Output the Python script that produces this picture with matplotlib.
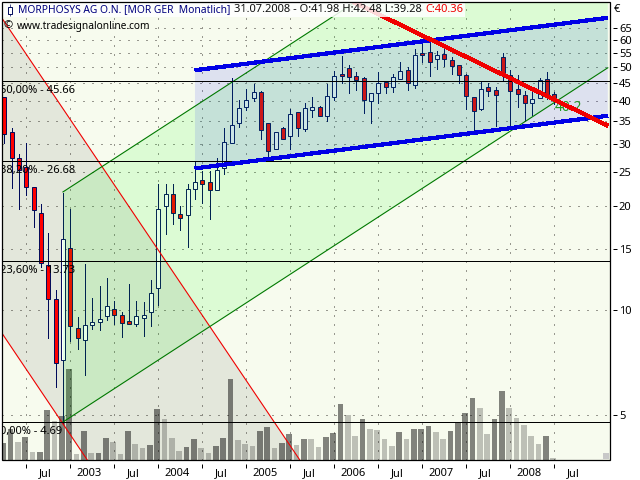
import matplotlib
matplotlib.use("Agg")
import matplotlib.pyplot as plt
from matplotlib.patches import Polygon, Rectangle
from matplotlib.ticker import NullFormatter, NullLocator

# months counted from Jan 2003, first candle is Apr 2002
months = list(range(-9, 67))
opens = [41.0, 32.5, 27.4, 25.9, 22.6, 19.1, 13.5, 10.75, 7.2, 15.1,
         8.87, 8.2, 9.03, 9.22, 9.6, 10.1, 9.67, 9.28, 9.09, 9.48,
         9.87, 11.55, 20.0, 21.6, 18.9, 18.8, 22.4, 23.7, 23.4, 22.2,
         25.6, 30.3, 34.6, 38.4, 40.9, 42.4, 34.6, 29.2, 33.4, 31.7,
         37.1, 33.2, 37.7, 38.4, 36.2, 41.2, 47.8, 49.9, 47.3, 46.7,
         40.0, 42.2, 45.3, 43.8, 46.4, 49.3, 44.6, 54.9, 55.3, 52.8,
         54.6, 52.4, 50.7, 47.7, 41.0, 37.9, 43.8, 43.0, 53.5, 47.7,
         43.3, 41.6, 39.5, 40.8, 46.2, 41.98]
highs = [41.0, 33.4, 28.2, 30.2, 22.6, 20.2, 16.7, 11.4, 21.7, 19.6,
         9.54, 13.6, 10.85, 11.7, 12.4, 10.65, 9.88, 11.9, 10.65, 10.55,
         12.25, 23.1, 23.1, 23.1, 20.0, 23.1, 26.8, 25.2, 25.2, 27.4,
         33.4, 46.5, 40.3, 43.4, 44.8, 42.7, 34.6, 32.7, 33.7, 37.9,
         37.3, 39.4, 41.0, 38.8, 44.8, 48.9, 53.9, 50.8, 48.4, 46.9,
         42.2, 48.4, 45.5, 47.9, 52.0, 50.0, 56.4, 59.0, 60.5, 55.7,
         56.8, 53.5, 50.7, 47.9, 41.0, 45.5, 45.0, 43.8, 54.9, 49.3,
         47.6, 42.7, 42.6, 46.5, 48.6, 42.48]
lows = [30.3, 22.5, 19.6, 21.5, 17.4, 13.3, 8.33, 6.02, 4.69, 8.17,
        7.75, 6.5, 8.8, 8.78, 9.37, 9.13, 8.35, 9.11, 8.97, 8.44,
        9.0, 10.35, 16.6, 17.7, 17.0, 15.2, 20.9, 20.3, 18.3, 22.2,
        24.6, 30.3, 33.6, 37.8, 40.1, 31.2, 27.1, 29.2, 31.2, 29.2,
        31.8, 32.8, 35.9, 36.2, 35.0, 40.3, 45.2, 42.2, 43.0, 37.0,
        34.5, 39.5, 42.1, 42.6, 46.2, 43.2, 43.5, 51.8, 47.1, 49.6,
        50.6, 48.0, 45.2, 38.0, 32.5, 37.7, 41.5, 34.0, 45.6, 33.6,
        38.5, 35.4, 36.6, 40.8, 40.5, 39.28]
closes = [32.1, 27.5, 25.4, 22.6, 19.4, 13.7, 10.8, 7.03, 16.0, 8.97,
          8.3, 9.05, 9.22, 9.4, 10.25, 9.67, 9.17, 9.11, 9.6, 9.67,
          11.2, 19.6, 21.6, 19.0, 18.4, 22.3, 23.4, 23.1, 22.2, 25.4,
          30.4, 34.1, 38.2, 40.2, 42.4, 33.1, 28.8, 32.7, 31.2, 36.7,
          33.4, 38.2, 38.4, 36.2, 41.3, 47.2, 47.4, 47.0, 46.0, 40.3,
          42.2, 45.0, 43.8, 47.0, 49.0, 45.0, 54.2, 54.4, 51.9, 54.2,
          52.8, 50.4, 47.7, 41.3, 37.5, 43.3, 42.7, 41.6, 47.7, 42.7,
          42.0, 39.4, 40.5, 45.9, 41.9, 40.36]

volumes = [17, 31, 18, 23, 8, 8, 50, 39, 44, 91,
           6, 29, 7, 7, 22, 18, 6, 29, 16, 12,
           15, 51, 41, 22, 9, 13, 21, 12, 7, 14,
           22, 81, 20, 16, 14, 29, 33, 12, 17, 26,
           15, 21, 21, 13, 23, 27, 56, 45, 24, 41,
           31, 30, 21, 14, 28, 21, 31, 31, 34, 28,
           21, 29, 38, 47, 62, 52, 26, 41, 69, 52,
           42, 35, 24, 16, 24, 2]
volume_dark = [1, 1, 0, 1, 0, 1, 1, 0, 1, 1,
               0, 1, 0, 1, 1, 0, 0, 1, 0, 0,
               1, 1, 0, 0, 0, 1, 1, 0, 0, 1,
               1, 1, 0, 0, 0, 1, 1, 0, 1, 1,
               0, 1, 0, 0, 1, 1, 1, 0, 0, 1,
               0, 0, 0, 0, 1, 0, 1, 1, 1, 0,
               0, 1, 1, 1, 1, 0, 0, 1, 1, 0,
               0, 0, 0, 0, 1, 0]

fib_levels = [45.6, 26.85, 13.83, 4.76]
fib_labels = ["50,00% - 45.66", "38,20% - 26.68", "23,60% - 13.73", "0,00% - 4.69"]
price_ticks = [5, 10, 15, 20, 25, 30, 35, 40, 45, 50, 55, 60, 65]
month_ticks = [-6, 0, 6, 12, 18, 24, 30, 36, 42, 48, 54, 60, 66]
month_labels = ["Jul", "2003", "Jul", "2004", "Jul", "2005", "Jul", "2006", "Jul", "2007", "Jul", "2008", "Jul"]

# channels as (month, price)
blue_upper = ([17.0, 73.3], [49.1, 69.5])
blue_lower = ([17.0, 73.3], [25.6, 36.3])
red_thick = ([38.6, 73.3], [77.2, 34.0])
green_upper = ([-1.0, 73.3], [21.9, 229.0])
green_lower = ([-1.0, 73.3], [4.76, 49.9])
red_upper = ([-9.35, 31.3], [69.5, 3.70])
red_lower = ([-9.35, 2.32], [8.6, 3.70])

plt.rcParams["font.family"] = ["Noto Sans", "DejaVu Sans"]

fig = plt.figure(figsize=(6.4, 4.8), dpi=100, facecolor="white")
ax = fig.add_axes([1.5 / 640, 1 - 460 / 480, 608.5 / 640, 458 / 480], facecolor="#F7FBEE")
ax.set_yscale("log")
ax.set_xlim(-9.38, 73.6)
ax.set_ylim(3.70, 77.2)

ax.set_axisbelow(True)
ax.grid(True, which="major", color="#98988F", linewidth=0.8, linestyle=(0, (1.1, 6.4)), antialiased=False)


def channel(upper, lower, color, alpha, zorder):
    points = list(zip(upper[0], upper[1])) + list(zip(lower[0][::-1], lower[1][::-1]))
    ax.add_patch(Polygon(points, closed=True, facecolor=color, alpha=alpha, edgecolor="none", zorder=zorder))


channel(red_upper, red_lower, "black", 0.08, 1)

for month, volume, dark in zip(months, volumes, volume_dark):
    ax.bar(month - 0.15, volume / 458, width=0.8, color="black", alpha=0.48 if dark else 0.23,
           transform=ax.get_xaxis_transform(), zorder=2)

navy = "#000A5A"
ax.vlines(months, lows, highs, color=navy, linewidth=0.7, antialiased=False, zorder=3)
for month, o, c in zip(months, opens, closes):
    low, high = min(o, c), max(o, c)
    ax.bar(month, high - low, bottom=low, width=0.56, facecolor="#FF0000" if c < o else "white",
           edgecolor=navy, linewidth=0.7, zorder=3.5)

channel(green_upper, green_lower, "#00FF00", 0.105, 4)
channel(blue_upper, blue_lower, "#0000FF", 0.10, 4)

for line in (red_upper, red_lower):
    ax.plot(line[0], line[1], color="#F00000", linewidth=0.8, zorder=4.5)
for line in (green_upper, green_lower):
    ax.plot(line[0], line[1], color="#007800", linewidth=0.8, zorder=4.5)

for level, label in zip(fib_levels, fib_labels):
    ax.axhline(level, color="black", linewidth=0.7, antialiased=False, zorder=5)
    ax.annotate(label, (0, level), xycoords=ax.get_yaxis_transform(), xytext=(-1.5, -9), textcoords="offset pixels",
                fontsize=8, va="center", ha="left", zorder=5, annotation_clip=False, clip_on=True)

ax.text(66.0, 40.4, "40.2", color="#229922", fontsize=10, va="top", ha="left", zorder=5)

for line in (blue_upper, blue_lower):
    ax.plot(line[0], line[1], color="#0000E6", linewidth=2.3, solid_capstyle="butt", antialiased=False, zorder=6)
ax.plot(red_thick[0], red_thick[1], color="#F00000", linewidth=2.3, solid_capstyle="butt", antialiased=False, zorder=6)

# header box sits over the thick lines
ax.add_patch(Rectangle((2 / 640, 1 - 17 / 480), 463 / 640, 15 / 480, transform=fig.transFigure,
                       facecolor="white", alpha=0.85, edgecolor="none", zorder=7, clip_on=False))
ax.add_patch(Rectangle((1.5 / 640, 1 - 460 / 480), 608.5 / 640, 458 / 480, transform=fig.transFigure,
                       facecolor="none", edgecolor="black", linewidth=0.9, zorder=8, clip_on=False))
ax.add_patch(Rectangle((603 / 640, 1 - 459 / 480), 6 / 640, 6 / 480, transform=fig.transFigure,
                       facecolor="#C8C8C8", edgecolor="none", zorder=8, clip_on=False))

for spine in ax.spines.values():
    spine.set_visible(False)
ax.spines["bottom"].set_position(("outward", 2.9))
ax.spines["right"].set_position(("outward", 2.0))

ax.yaxis.tick_right()
ax.yaxis.set_minor_locator(NullLocator())
ax.yaxis.set_minor_formatter(NullFormatter())
ax.set_yticks(price_ticks, [str(p) for p in price_ticks])
ax.set_xticks(month_ticks)
ax.set_xticklabels([])
ax.set_xticks([m + 2.6 for m in month_ticks], month_labels, minor=True)
ax.tick_params(axis="x", which="major", length=2.9, width=0.72, direction="out")
ax.tick_params(axis="x", which="minor", length=0, pad=3, labelsize=8)
ax.tick_params(axis="y", which="major", length=2.9, width=0.72, direction="out", pad=1.5, labelsize=8)

fig.text(617 / 640, 1 - 9 / 480, "€", fontsize=8, va="center", ha="center")

# small candle glyph in front of the title
ax.add_patch(Rectangle((8 / 640, 1 - 14 / 480), 4 / 640, 7 / 480, transform=fig.transFigure,
                       facecolor="white", edgecolor=navy, linewidth=0.7, zorder=8, clip_on=False))
ax.add_patch(Rectangle((10 / 640, 1 - 16 / 480), 0.01 / 640, 12 / 480, transform=fig.transFigure,
                       facecolor=navy, edgecolor=navy, linewidth=0.5, zorder=7.5, clip_on=False))

fig.text(18 / 640, 1 - 10 / 480, "MORPHOSYS AG O.N. [MOR GER  Monatlich]", color="#00007E", fontsize=7.4, va="center")
fig.text(234 / 640, 1 - 10 / 480, "31.07.2008 - O:41.98 H:42.48 L:39.28", color="#101010", fontsize=8, va="center")
fig.text(425 / 640, 1 - 10 / 480, "C:40.36", color="#F00000", fontsize=8, va="center")
fig.text(4 / 640, 1 - 26 / 480, "©", color="black", fontsize=8, va="center")
fig.text(17 / 640, 1 - 26 / 480, "www.tradesignalonline.com", color="black", fontsize=7.3, va="center")

fig.savefig("out.png", dpi=100)
